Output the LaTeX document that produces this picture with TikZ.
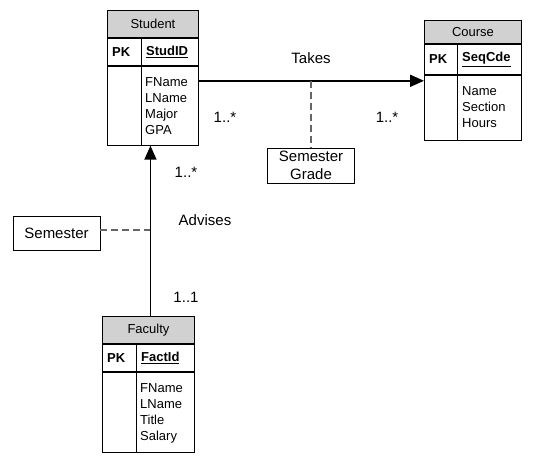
\documentclass[tikz,border=0pt]{standalone}
\usepackage{fontspec}
\setmainfont{Liberation Sans}
\usetikzlibrary{arrows.meta,calc}
\begin{document}
\begin{tikzpicture}[x=1pt,y=-1pt,
  cell/.style={draw,line width=0.9pt,inner sep=0pt,anchor=north west},
  hdr/.style={cell,fill=black!18,font=\fontsize{13}{16}\selectfont},
  tt/.style={inner sep=0pt,font=\fontsize{13}{16}\selectfont},
  attrs/.style={tt,anchor=north west,align=left},
  lbl/.style={inner sep=0pt,font=\fontsize{15}{18}\selectfont},
  note/.style={draw,line width=0.9pt,inner sep=0pt,align=center,font=\fontsize{15}{17}\selectfont},
  rel/.style={line width=1.8pt,-{Triangle[length=14pt,width=12pt]}},
  dsh/.style={draw=black!60,line width=1.1pt,dash pattern=on 7pt off 4pt}]
\useasboundingbox (0,0) rectangle (534,459);
% Student
\node[hdr,minimum width=91pt,minimum height=27pt] (sh) at (107,10) {Student};
\node[cell,minimum width=91pt,minimum height=27pt] (sp) at (sh.south west) {};
\node[cell,minimum width=91pt,minimum height=79pt] (sa) at (sp.south west) {};
\draw[line width=0.9pt] ($(sp.north west)+(34,0)$) -- ($(sa.south west)+(34,0)$);
\node[tt,anchor=west] (spk) at ($(sp.west)+(5,0)$) {\textbf{PK}};
\node[tt,anchor=west] (sid) at ($(sp.west)+(39,0)$) {\textbf{\underline{StudID}}};
\node[attrs] (sat) at ($(sa.north west)+(38,12)$) {FName\\LName\\Major\\GPA};
% Course
\node[hdr,minimum width=97pt,minimum height=23pt] (ch) at (424,20) {Course};
\node[cell,minimum width=97pt,minimum height=30pt] (cp) at (ch.south west) {};
\node[cell,minimum width=97pt,minimum height=65pt] (ca) at (cp.south west) {};
\draw[line width=0.9pt] ($(cp.north west)+(33,0)$) -- ($(ca.south west)+(33,0)$);
\node[tt,anchor=west] (cpk) at ($(cp.west)+(5,0)$) {\textbf{PK}};
\node[tt,anchor=west] (cid) at ($(cp.west)+(38,0)$) {\textbf{\underline{SeqCde}}};
\node[attrs] (cat) at ($(ca.north west)+(38,12)$) {Name\\Section\\Hours};
% Faculty
\node[hdr,minimum width=92pt,minimum height=27pt] (fh) at (102,316) {Faculty};
\node[cell,minimum width=92pt,minimum height=27pt] (fp) at (fh.south west) {};
\node[cell,minimum width=92pt,minimum height=80pt] (fa) at (fp.south west) {};
\draw[line width=0.9pt] ($(fp.north west)+(34,0)$) -- ($(fa.south west)+(34,0)$);
\node[tt,anchor=west] (fpk) at ($(fp.west)+(5,0)$) {\textbf{PK}};
\node[tt,anchor=west] (fid) at ($(fp.west)+(39,0)$) {\textbf{\underline{FactId}}};
\node[attrs] (fat) at ($(fa.north west)+(38,12)$) {FName\\LName\\Title\\Salary};
% Takes
\coordinate (t1) at ($(sa.north east)+(0,15)$);
\draw[rel] (t1) -- (t1 -| ca.west);
\node[lbl] (takes) at (311,58) {Takes};
\node[lbl] (m1) at (225,117) {1..*};
\node[lbl] (m2) at (387,117) {1..*};
\node[note,minimum width=87pt,minimum height=35pt] (sg) at (311,165.5) {Semester\\[1pt]Grade};
\coordinate (tm) at (sg.north |- t1);
\draw[dsh] (tm) -- (sg.north);
% Advises
\coordinate (a1) at ($(fh.north)+(2,0)$);
\draw[rel] (a1) -- (a1 |- sa.south);
\node[lbl] (m3) at (186,172) {1..*};
\node[lbl] (adv) at (205,220) {Advises};
\node[lbl] (m4) at (186,297) {1..1};
\node[note,minimum width=87pt,minimum height=34pt] (sem) at (56.5,233) {Semester};
\coordinate (am) at ($(sem.east)+(0,-3)$);
\draw[dsh] (am) -- (am -| a1);
\end{tikzpicture}
\end{document}
